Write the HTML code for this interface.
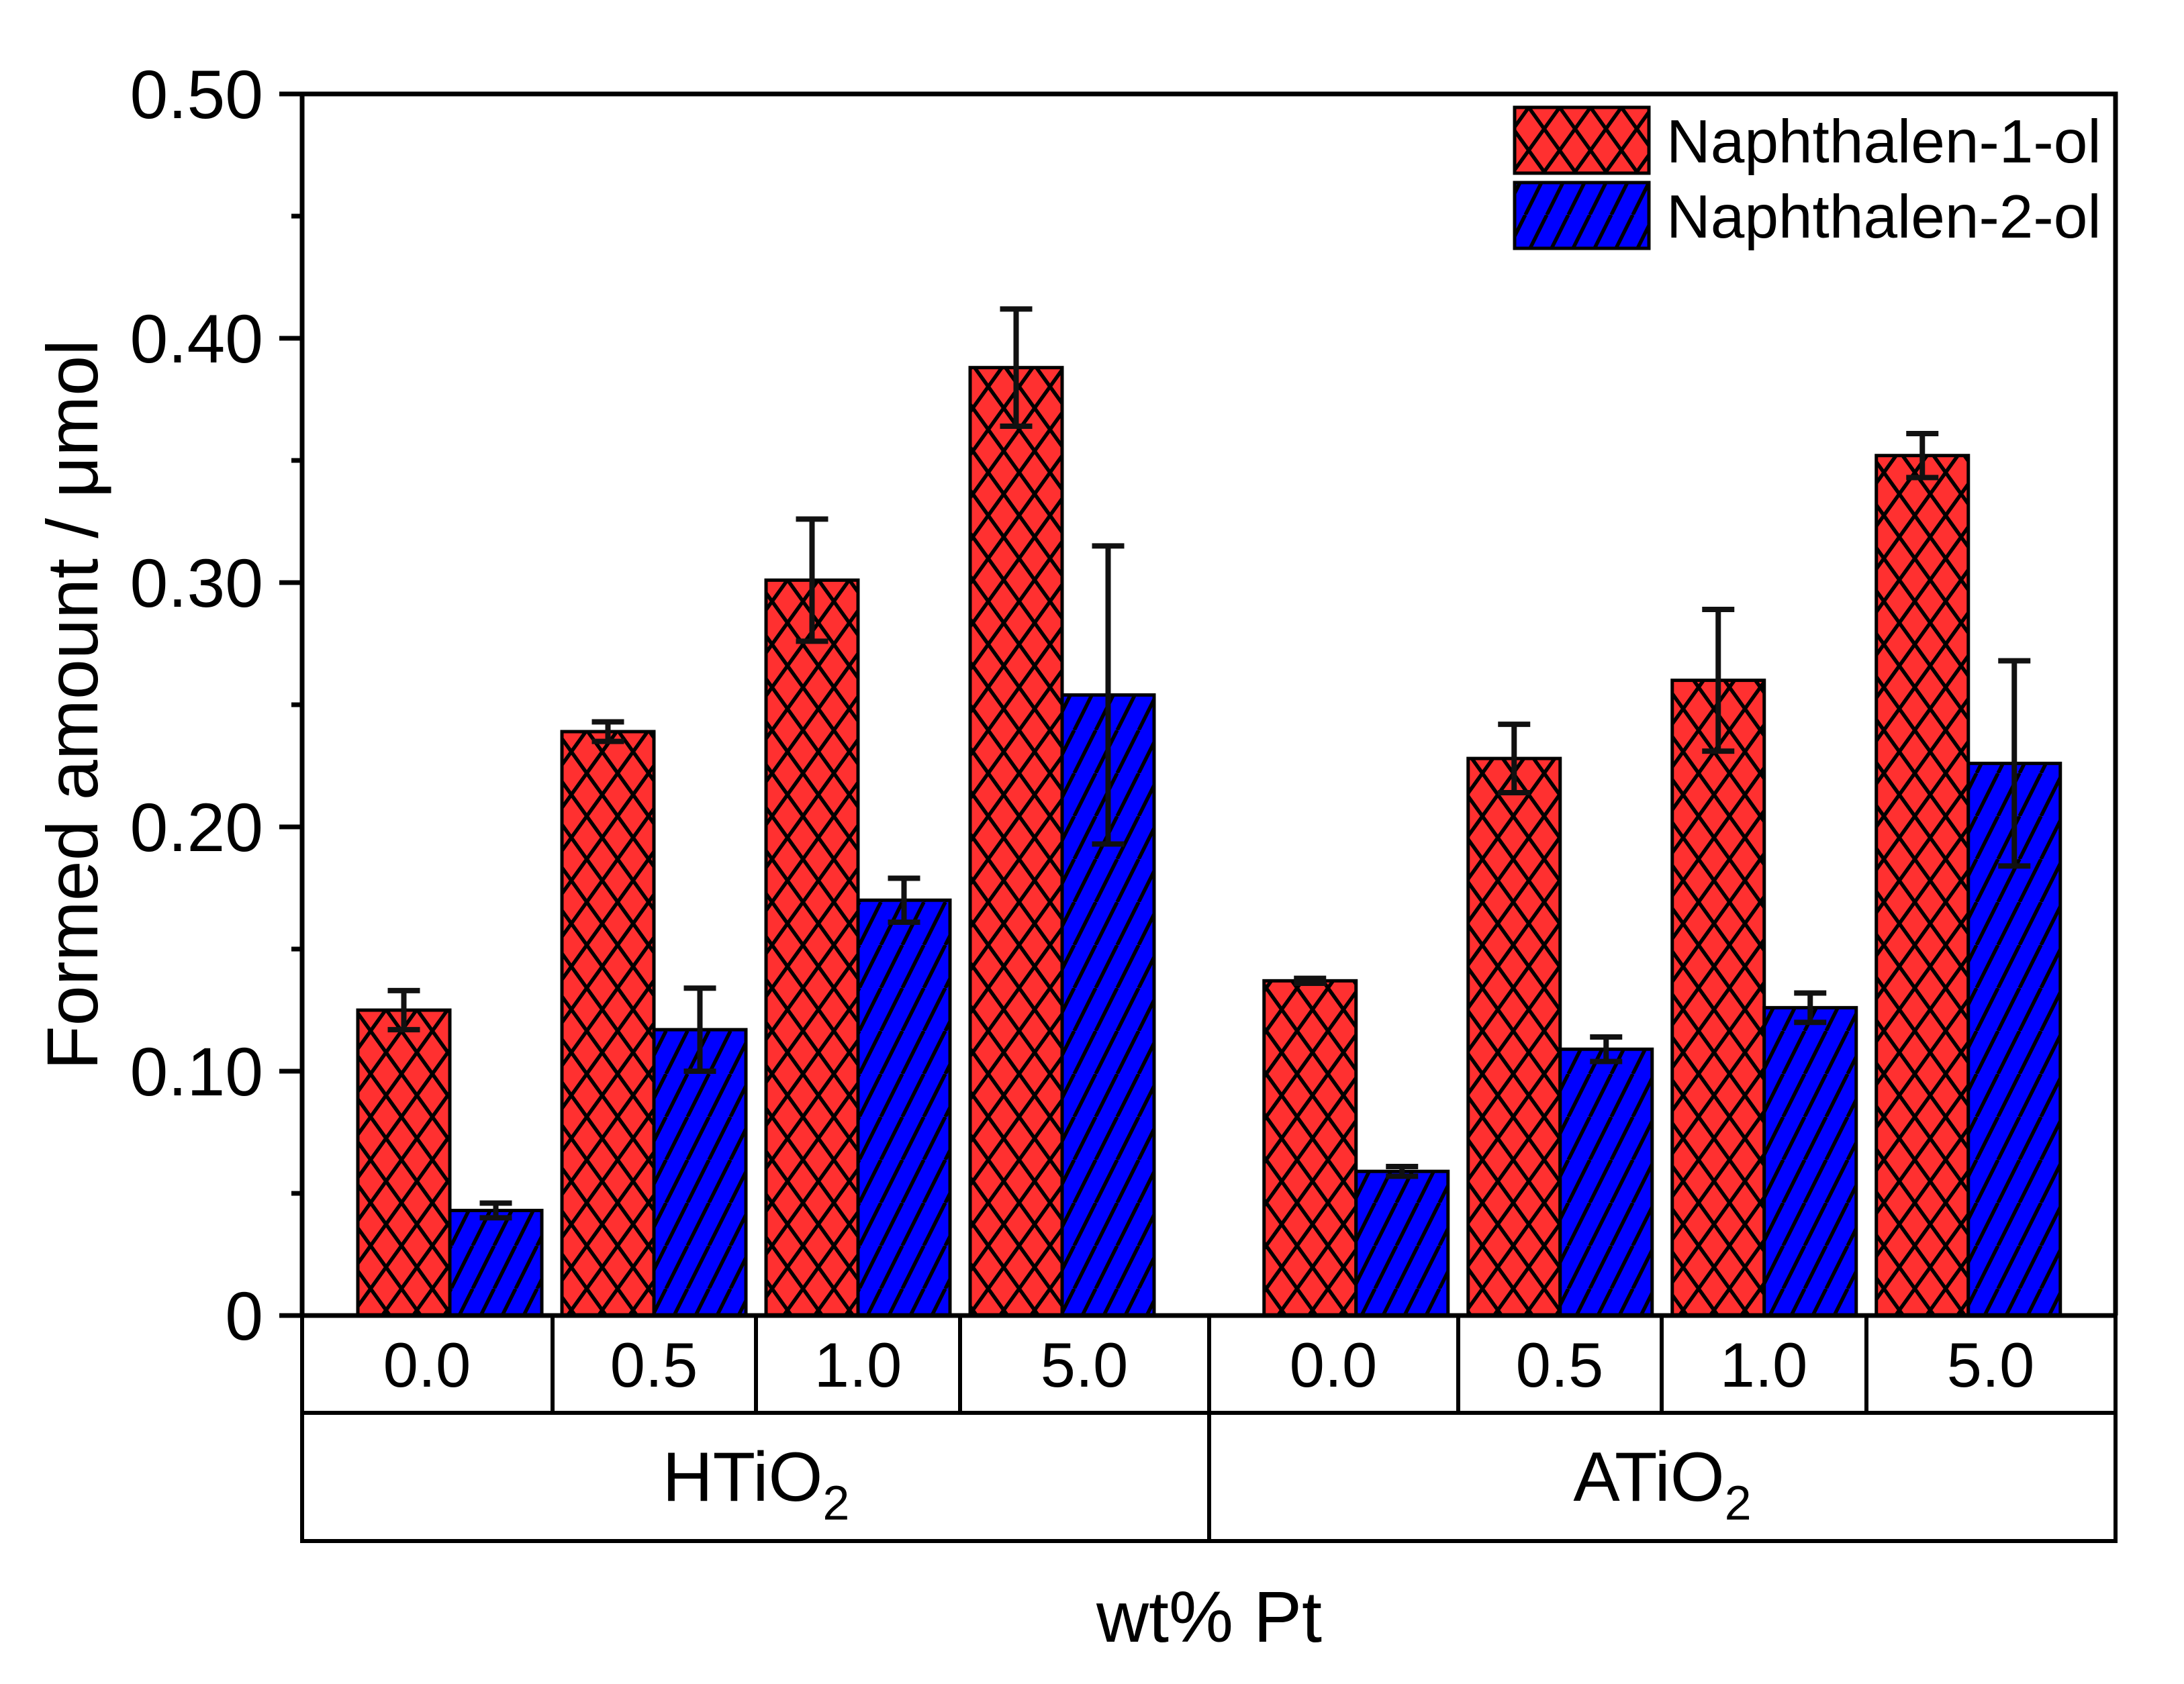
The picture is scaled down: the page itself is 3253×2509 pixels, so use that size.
<!DOCTYPE html>
<html><head><meta charset="utf-8"><style>
html,body{margin:0;padding:0;background:#fff;}
svg{display:block;font-family:"Liberation Sans",Arial,sans-serif;}
</style></head><body>
<svg id="chart" width="3253" height="2509" viewBox="0 0 3253 2509" xmlns="http://www.w3.org/2000/svg">
<defs>
<pattern id="cross" patternUnits="userSpaceOnUse" width="46" height="64">
<rect width="46" height="64" fill="#ff3030"/>
<path d="M0,0 L46,64 M46,0 L0,64 M-23,32 L0,64 M23,-32 L69,32 M-23,32 L23,-32 M23,96 L69,32" stroke="#000" stroke-width="5.5"/>
</pattern>
<pattern id="diag" patternUnits="userSpaceOnUse" width="32" height="64">
<rect width="32" height="64" fill="#0000ff"/>
<path d="M0,64 L32,0 M-32,64 L0,0 M32,64 L64,0" stroke="#000" stroke-width="5.5"/>
</pattern>
</defs>
<g id="plot"></g>
</svg>
<script>
const groups = ["HTiO2","ATiO2"];
const categories = ["0.0","0.5","1.0","5.0","0.0","0.5","1.0","5.0"];
const naph1 = [0.125,0.239,0.301,0.388,0.137,0.228,0.260,0.352];
const naph1Err = [0.008,0.004,0.025,0.024,0.001,0.014,0.029,0.009];
const naph2 = [0.043,0.117,0.170,0.254,0.059,0.109,0.126,0.226];
const naph2Err = [0.003,0.017,0.009,0.061,0.002,0.005,0.006,0.042];
const yTicks = [0,0.1,0.2,0.3,0.4,0.5];
const yTickLabels = ["0","0.10","0.20","0.30","0.40","0.50"];

const NS="http://www.w3.org/2000/svg";
const g=document.getElementById('plot');
const L=450,R=3151,T=140,B=1960;
const y=v=>B-(v-0)/(0.5)*(B-T);
const xc=i=>670+304*(i<4?i:i+0.44);
const bw=137;
function el(tag,attrs,parent){const e=document.createElementNS(NS,tag);for(const k in attrs)e.setAttribute(k,attrs[k]);(parent||g).appendChild(e);return e;}

for(let i=0;i<categories.length;i++){
  const c=xc(i);
  const r1=el('rect',{x:c-bw,y:y(naph1[i]),width:bw,height:y(0)-y(naph1[i]),fill:'url(#cross)',stroke:'#000','stroke-width':5});
  
  
  const r2=el('rect',{x:c,y:y(naph2[i]),width:bw,height:y(0)-y(naph2[i]),fill:'url(#diag)',stroke:'#000','stroke-width':5});
  
  
  const sets=[[c-bw/2,naph1[i],naph1Err[i]],[c+bw/2,naph2[i],naph2Err[i]]];
  for(const [ex,v,e] of sets){
    const eb=el('path',{d:`M${ex},${y(v+e)} L${ex},${y(v-e)} M${ex-24},${y(v+e)} L${ex+24},${y(v+e)} M${ex-24},${y(v-e)} L${ex+24},${y(v-e)}`,stroke:'#111','stroke-width':8,fill:'none'});
    
    
  }
}
const fr=el('path',{d:`M${L},${B} L${L},${T} L${R},${T} L${R},${B} M418,${B} L${R},${B}`,stroke:'#000','stroke-width':7,fill:'none'});


for(let k=0;k<yTicks.length;k++){
  const yy=y(yTicks[k]);
  const t=el('line',{x1:L-34,x2:L,y1:yy,y2:yy,stroke:'#000','stroke-width':7});
  
  
  const lb=el('text',{x:392,y:yy+36,'font-size':102,'text-anchor':'end',fill:'#000'});
  lb.textContent=yTickLabels[k];
  
  
  if(k<yTicks.length-1){
    const ym=y(yTicks[k]+0.05);
    const m=el('line',{x1:L-16,x2:L,y1:ym,y2:ym,stroke:'#000','stroke-width':7});
    
    
  }
}
const tb=el('path',{d:`M${L},${B} L${L},2296 L${R},2296 L${R},${B} M${L},2105 L${R},2105 M1801,${B} L1801,2296 M823,${B} L823,2105 M1126,${B} L1126,2105 M1430,${B} L1430,2105 M2172,${B} L2172,2105 M2475,${B} L2475,2105 M2780,${B} L2780,2105`,stroke:'#000','stroke-width':6,fill:'none'});


const cellC=[636,974,1278,1615,1986,2323,2627,2965];
for(let i=0;i<categories.length;i++){
  const t=el('text',{x:cellC[i],y:2066,'font-size':94,'text-anchor':'middle'});
  t.textContent=categories[i];
  
  
}
const gx=[1126,2476];
for(let j=0;j<groups.length;j++){
  const t=el('text',{x:gx[j],y:2236,'font-size':104,'text-anchor':'middle'});
  t.innerHTML=groups[j].slice(0,-1)+'<tspan font-size="72" dy="28">2</tspan>';
  
  
}
const xt=el('text',{x:1801,y:2446,'font-size':108,'text-anchor':'middle'});
xt.textContent='wt% Pt';


const yt=el('text',{x:0,y:0,'font-size':108,'text-anchor':'middle',transform:'translate(145,1050) rotate(-90)'});
yt.textContent='Formed amount / μmol';


const leg=[['url(#cross)','Naphthalen-1-ol',160],['url(#diag)','Naphthalen-2-ol',272]];
for(const [f,txt,ly] of leg){
  const b=el('rect',{x:2256,y:ly,width:200,height:98,fill:f,stroke:'#000','stroke-width':5});
  
  
  const t=el('text',{x:2482,y:ly+82,'font-size':91});
  t.textContent=txt;
  
  
}
</script>
</body></html>
